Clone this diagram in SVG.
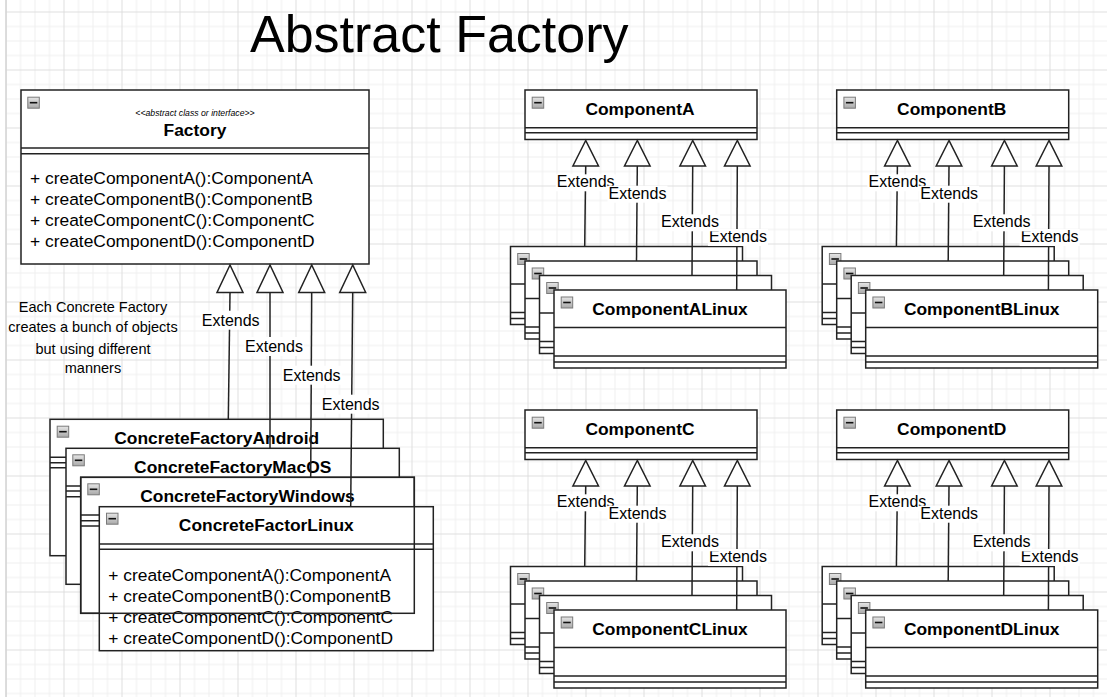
<svg xmlns="http://www.w3.org/2000/svg" xmlns:xlink="http://www.w3.org/1999/xlink" width="1107" height="697" viewBox="0 0 1107 697">
<defs>
<style>
.bx{fill:#fff;stroke:#222;stroke-width:1.5}
.ol{fill:none;stroke:#222;stroke-width:1.5}
.sp{stroke:#222;stroke-width:1.5}
.ed{stroke:#222;stroke-width:1.5;fill:none}
.tr{fill:#fff;stroke:#222;stroke-width:1.5}
.lb{fill:#fff}
text{font-family:"Liberation Sans",Arial,sans-serif;fill:#000}
.t{font-size:17.4px;font-weight:bold;text-anchor:middle}
.m{font-size:17.4px}
.e{font-size:16px;text-anchor:middle}
.n{font-size:14.5px;text-anchor:middle}
.st{font-size:8.7px;font-style:italic;text-anchor:middle}
.h{font-size:52px}
</style>
<linearGradient id="ig" x1="0" y1="0" x2="0" y2="1"><stop offset="0" stop-color="#e6e6e6"/><stop offset="1" stop-color="#a9a9a9"/></linearGradient>
<g id="ico"><rect x="0.5" y="0.5" width="11.5" height="11" fill="url(#ig)" stroke="#7a7a7a" stroke-width="1"/><rect x="2.5" y="5.2" width="7.5" height="1.6" fill="#111"/></g>
<pattern id="grid" patternUnits="userSpaceOnUse" x="5.5" y="11.5" width="58" height="58">
<path d="M15,0V58M29.5,0V58M44,0V58M0,15H58M0,29.5H58M0,44H58" stroke="#efefef" stroke-width="1" fill="none"/>
<path d="M0.5,0V58M0,0.5H58" stroke="#dedede" stroke-width="1" fill="none"/>
</pattern>
</defs>

<g id="background">
<rect x="0" y="0" width="1107" height="697" fill="#fff"/>
<rect x="5.5" y="0" width="1101.5" height="697" fill="url(#grid)"/>
<line x1="6" y1="0" x2="6" y2="697" stroke="#d4d4d4" stroke-width="1.5"/>
</g>

<g id="title"><text class="h" x="250" y="52">Abstract Factory</text></g>

<g id="note">
<text class="n" x="93" y="311.7">Each Concrete Factory</text>
<text class="n" x="93" y="331.7">creates a bunch of objects</text>
<text class="n" x="93" y="354">but using different</text>
<text class="n" x="93" y="373.3">manners</text>
</g>

<g id="factory">
<rect class="bx" x="21" y="90" width="348" height="174"/>
<line class="sp" x1="21" y1="148" x2="369" y2="148"/>
<line class="sp" x1="21" y1="153.7" x2="369" y2="153.7"/>
<use xlink:href="#ico" x="27.3" y="96.7"/>
<text class="st" x="195" y="115.7">&lt;&lt;abstract class or interface&gt;&gt;</text>
<text class="t" x="195" y="136">Factory</text>
<text class="m" x="30" y="184">+ createComponentA():ComponentA</text>
<text class="m" x="30" y="205">+ createComponentB():ComponentB</text>
<text class="m" x="30" y="226">+ createComponentC():ComponentC</text>
<text class="m" x="30" y="247">+ createComponentD():ComponentD</text>
</g>

<g id="concreteFactoryAndroid">
<rect class="bx" x="50" y="419.3" width="333.3" height="136.4"/>
<line class="sp" x1="50" y1="457.3" x2="383.3" y2="457.3"/>
<line class="sp" x1="50" y1="462.7" x2="383.3" y2="462.7"/>
<line class="sp" x1="50" y1="467.7" x2="383.3" y2="467.7"/>
<use xlink:href="#ico" x="56.7" y="425.7"/>
<text class="t" x="216.7" y="444.3">ConcreteFactoryAndroid</text>
</g>
<g id="concreteFactoryMacOS">
<rect class="bx" x="66" y="448.3" width="333.3" height="136"/>
<line class="sp" x1="66" y1="486" x2="399.3" y2="486"/>
<line class="sp" x1="66" y1="491" x2="399.3" y2="491"/>
<line class="sp" x1="66" y1="496.7" x2="399.3" y2="496.7"/>
<use xlink:href="#ico" x="72.3" y="454.3"/>
<text class="t" x="232.7" y="472.7">ConcreteFactoryMacOS</text>
</g>
<g id="concreteFactoryWindows">
<rect class="bx" x="80.7" y="477.3" width="333.6" height="136"/>
<line class="sp" x1="80.7" y1="515" x2="414.3" y2="515"/>
<line class="sp" x1="80.7" y1="520.7" x2="414.3" y2="520.7"/>
<line class="sp" x1="80.7" y1="526" x2="414.3" y2="526"/>
<use xlink:href="#ico" x="87.3" y="483.3"/>
<text class="t" x="247.5" y="501.7">ConcreteFactoryWindows</text>
</g>
<g id="concreteFactorLinux">
<rect class="bx" x="99.3" y="506.7" width="334" height="144"/>
<line class="sp" x1="99.3" y1="544" x2="433.3" y2="544"/>
<line class="sp" x1="99.3" y1="549.3" x2="433.3" y2="549.3"/>
<use xlink:href="#ico" x="106" y="512.7"/>
<text class="t" x="266.3" y="531">ConcreteFactorLinux</text>
<text class="m" x="108.3" y="581">+ createComponentA():ComponentA</text>
<text class="m" x="108.3" y="602">+ createComponentB():ComponentB</text>
<text class="m" x="108.3" y="623">+ createComponentC():ComponentC</text>
<text class="m" x="108.3" y="644">+ createComponentD():ComponentD</text>
</g>
<g id="concreteFactoryWindowsBorder">
<rect class="ol" x="80.7" y="477.3" width="333.6" height="136"/>
</g>

<g id="componentA">
<rect class="bx" x="525" y="90" width="232" height="49.5"/>
<line class="sp" x1="525" y1="127.7" x2="757" y2="127.7"/>
<line class="sp" x1="525" y1="132.7" x2="757" y2="132.7"/>
<use xlink:href="#ico" x="531.7" y="96.7"/>
<text class="t" x="640" y="115">ComponentA</text>
</g>
<g id="componentAImpls">
<rect class="bx" x="510.5" y="246.5" width="232" height="78"/>
<path class="sp" d="M510.5,284H742.5M510.5,312.5H742.5M510.5,318.5H742.5"/>
<use xlink:href="#ico" x="517.2" y="253"/>
<rect class="bx" x="525" y="261" width="232" height="78"/>
<path class="sp" d="M525,298.5H757M525,327H757M525,333H757"/>
<use xlink:href="#ico" x="531.7" y="267.5"/>
<rect class="bx" x="539.5" y="275.5" width="232" height="78"/>
<path class="sp" d="M539.5,313H771.5M539.5,341.5H771.5M539.5,347.5H771.5"/>
<use xlink:href="#ico" x="546.2" y="282"/>
<rect class="bx" x="554" y="290" width="232" height="78"/>
<path class="sp" d="M554,327.5H786M554,356H786M554,362H786"/>
<use xlink:href="#ico" x="560.7" y="296.5"/>
<text class="t" x="670" y="315">ComponentALinux</text>
</g>

<g id="componentB" transform="translate(311.7,0)">
<rect class="bx" x="525" y="90" width="232" height="49.5"/>
<line class="sp" x1="525" y1="127.7" x2="757" y2="127.7"/>
<line class="sp" x1="525" y1="132.7" x2="757" y2="132.7"/>
<use xlink:href="#ico" x="531.7" y="96.7"/>
<text class="t" x="640" y="115">ComponentB</text>
</g>
<g id="componentBImpls" transform="translate(311.7,0)">
<rect class="bx" x="510.5" y="246.5" width="232" height="78"/>
<path class="sp" d="M510.5,284H742.5M510.5,312.5H742.5M510.5,318.5H742.5"/>
<use xlink:href="#ico" x="517.2" y="253"/>
<rect class="bx" x="525" y="261" width="232" height="78"/>
<path class="sp" d="M525,298.5H757M525,327H757M525,333H757"/>
<use xlink:href="#ico" x="531.7" y="267.5"/>
<rect class="bx" x="539.5" y="275.5" width="232" height="78"/>
<path class="sp" d="M539.5,313H771.5M539.5,341.5H771.5M539.5,347.5H771.5"/>
<use xlink:href="#ico" x="546.2" y="282"/>
<rect class="bx" x="554" y="290" width="232" height="78"/>
<path class="sp" d="M554,327.5H786M554,356H786M554,362H786"/>
<use xlink:href="#ico" x="560.7" y="296.5"/>
<text class="t" x="670" y="315">ComponentBLinux</text>
</g>

<g id="componentC" transform="translate(0,320)">
<rect class="bx" x="525" y="90" width="232" height="49.5"/>
<line class="sp" x1="525" y1="127.7" x2="757" y2="127.7"/>
<line class="sp" x1="525" y1="132.7" x2="757" y2="132.7"/>
<use xlink:href="#ico" x="531.7" y="96.7"/>
<text class="t" x="640" y="115">ComponentC</text>
</g>
<g id="componentCImpls" transform="translate(0,320)">
<rect class="bx" x="510.5" y="246.5" width="232" height="78"/>
<path class="sp" d="M510.5,284H742.5M510.5,312.5H742.5M510.5,318.5H742.5"/>
<use xlink:href="#ico" x="517.2" y="253"/>
<rect class="bx" x="525" y="261" width="232" height="78"/>
<path class="sp" d="M525,298.5H757M525,327H757M525,333H757"/>
<use xlink:href="#ico" x="531.7" y="267.5"/>
<rect class="bx" x="539.5" y="275.5" width="232" height="78"/>
<path class="sp" d="M539.5,313H771.5M539.5,341.5H771.5M539.5,347.5H771.5"/>
<use xlink:href="#ico" x="546.2" y="282"/>
<rect class="bx" x="554" y="290" width="232" height="78"/>
<path class="sp" d="M554,327.5H786M554,356H786M554,362H786"/>
<use xlink:href="#ico" x="560.7" y="296.5"/>
<text class="t" x="670" y="315">ComponentCLinux</text>
</g>

<g id="componentD" transform="translate(311.7,320)">
<rect class="bx" x="525" y="90" width="232" height="49.5"/>
<line class="sp" x1="525" y1="127.7" x2="757" y2="127.7"/>
<line class="sp" x1="525" y1="132.7" x2="757" y2="132.7"/>
<use xlink:href="#ico" x="531.7" y="96.7"/>
<text class="t" x="640" y="115">ComponentD</text>
</g>
<g id="componentDImpls" transform="translate(311.7,320)">
<rect class="bx" x="510.5" y="246.5" width="232" height="78"/>
<path class="sp" d="M510.5,284H742.5M510.5,312.5H742.5M510.5,318.5H742.5"/>
<use xlink:href="#ico" x="517.2" y="253"/>
<rect class="bx" x="525" y="261" width="232" height="78"/>
<path class="sp" d="M525,298.5H757M525,327H757M525,333H757"/>
<use xlink:href="#ico" x="531.7" y="267.5"/>
<rect class="bx" x="539.5" y="275.5" width="232" height="78"/>
<path class="sp" d="M539.5,313H771.5M539.5,341.5H771.5M539.5,347.5H771.5"/>
<use xlink:href="#ico" x="546.2" y="282"/>
<rect class="bx" x="554" y="290" width="232" height="78"/>
<path class="sp" d="M554,327.5H786M554,356H786M554,362H786"/>
<use xlink:href="#ico" x="560.7" y="296.5"/>
<text class="t" x="670" y="315">ComponentDLinux</text>
</g>

<g id="connectors">
<g id="factoryEdges">
<line class="ed" x1="230" y1="292.5" x2="228.3" y2="419.3"/>
<polygon class="tr" points="230,265 217,292.5 243,292.5"/>
<rect class="lb" x="200.7" y="310.7" width="60" height="19"/>
<text class="e" x="230.7" y="325.7">Extends</text>
<line class="ed" x1="270" y1="292.5" x2="270" y2="448.3"/>
<polygon class="tr" points="270,265 257,292.5 283,292.5"/>
<rect class="lb" x="244" y="337" width="60" height="19"/>
<text class="e" x="274" y="352">Extends</text>
<line class="ed" x1="311.7" y1="292.5" x2="310.7" y2="477.3"/>
<polygon class="tr" points="311.7,265 298.7,292.5 324.7,292.5"/>
<rect class="lb" x="281.7" y="365.7" width="60" height="19"/>
<text class="e" x="311.7" y="380.7">Extends</text>
<line class="ed" x1="352.7" y1="292.5" x2="350.7" y2="506.7"/>
<polygon class="tr" points="352.7,265 339.7,292.5 365.7,292.5"/>
<rect class="lb" x="320.7" y="394.7" width="60" height="19"/>
<text class="e" x="350.7" y="409.7">Extends</text>
</g>
<g id="componentAEdges">
<line class="ed" x1="585.7" y1="166" x2="584.7" y2="246.5"/>
<polygon class="tr" points="585.7,140.5 572.9,166 598.5,166"/>
<rect class="lb" x="555.7" y="174.3" width="60" height="17"/>
<text class="e" x="585.7" y="187.3">Extends</text>
<line class="ed" x1="637.3" y1="166" x2="636.5" y2="261"/>
<polygon class="tr" points="637.3,140.5 624.5,166 650.1,166"/>
<rect class="lb" x="607.5" y="185.7" width="60" height="17"/>
<text class="e" x="637.5" y="198.7">Extends</text>
<line class="ed" x1="737.3" y1="166" x2="736.7" y2="290"/>
<polygon class="tr" points="737.3,140.5 724.5,166 750.1,166"/>
<rect class="lb" x="708" y="229" width="60" height="17"/>
<text class="e" x="738" y="242">Extends</text>
<line class="ed" x1="692.7" y1="166" x2="692" y2="275.5"/>
<polygon class="tr" points="692.7,140.5 679.9,166 705.5,166"/>
<rect class="lb" x="660" y="214.3" width="60" height="17"/>
<text class="e" x="690" y="227.3">Extends</text>
</g>
<g id="componentBEdges" transform="translate(311.7,0)">
<line class="ed" x1="585.7" y1="166" x2="584.7" y2="246.5"/>
<polygon class="tr" points="585.7,140.5 572.9,166 598.5,166"/>
<rect class="lb" x="555.7" y="174.3" width="60" height="17"/>
<text class="e" x="585.7" y="187.3">Extends</text>
<line class="ed" x1="637.3" y1="166" x2="636.5" y2="261"/>
<polygon class="tr" points="637.3,140.5 624.5,166 650.1,166"/>
<rect class="lb" x="607.5" y="185.7" width="60" height="17"/>
<text class="e" x="637.5" y="198.7">Extends</text>
<line class="ed" x1="737.3" y1="166" x2="736.7" y2="290"/>
<polygon class="tr" points="737.3,140.5 724.5,166 750.1,166"/>
<rect class="lb" x="708" y="229" width="60" height="17"/>
<text class="e" x="738" y="242">Extends</text>
<line class="ed" x1="692.7" y1="166" x2="692" y2="275.5"/>
<polygon class="tr" points="692.7,140.5 679.9,166 705.5,166"/>
<rect class="lb" x="660" y="214.3" width="60" height="17"/>
<text class="e" x="690" y="227.3">Extends</text>
</g>
<g id="componentCEdges" transform="translate(0,320)">
<line class="ed" x1="585.7" y1="166" x2="584.7" y2="246.5"/>
<polygon class="tr" points="585.7,140.5 572.9,166 598.5,166"/>
<rect class="lb" x="555.7" y="174.3" width="60" height="17"/>
<text class="e" x="585.7" y="187.3">Extends</text>
<line class="ed" x1="637.3" y1="166" x2="636.5" y2="261"/>
<polygon class="tr" points="637.3,140.5 624.5,166 650.1,166"/>
<rect class="lb" x="607.5" y="185.7" width="60" height="17"/>
<text class="e" x="637.5" y="198.7">Extends</text>
<line class="ed" x1="737.3" y1="166" x2="736.7" y2="290"/>
<polygon class="tr" points="737.3,140.5 724.5,166 750.1,166"/>
<rect class="lb" x="708" y="229" width="60" height="17"/>
<text class="e" x="738" y="242">Extends</text>
<line class="ed" x1="692.7" y1="166" x2="692" y2="275.5"/>
<polygon class="tr" points="692.7,140.5 679.9,166 705.5,166"/>
<rect class="lb" x="660" y="214.3" width="60" height="17"/>
<text class="e" x="690" y="227.3">Extends</text>
</g>
<g id="componentDEdges" transform="translate(311.7,320)">
<line class="ed" x1="585.7" y1="166" x2="584.7" y2="246.5"/>
<polygon class="tr" points="585.7,140.5 572.9,166 598.5,166"/>
<rect class="lb" x="555.7" y="174.3" width="60" height="17"/>
<text class="e" x="585.7" y="187.3">Extends</text>
<line class="ed" x1="637.3" y1="166" x2="636.5" y2="261"/>
<polygon class="tr" points="637.3,140.5 624.5,166 650.1,166"/>
<rect class="lb" x="607.5" y="185.7" width="60" height="17"/>
<text class="e" x="637.5" y="198.7">Extends</text>
<line class="ed" x1="737.3" y1="166" x2="736.7" y2="290"/>
<polygon class="tr" points="737.3,140.5 724.5,166 750.1,166"/>
<rect class="lb" x="708" y="229" width="60" height="17"/>
<text class="e" x="738" y="242">Extends</text>
<line class="ed" x1="692.7" y1="166" x2="692" y2="275.5"/>
<polygon class="tr" points="692.7,140.5 679.9,166 705.5,166"/>
<rect class="lb" x="660" y="214.3" width="60" height="17"/>
<text class="e" x="690" y="227.3">Extends</text>
</g>
</g>
</svg>
